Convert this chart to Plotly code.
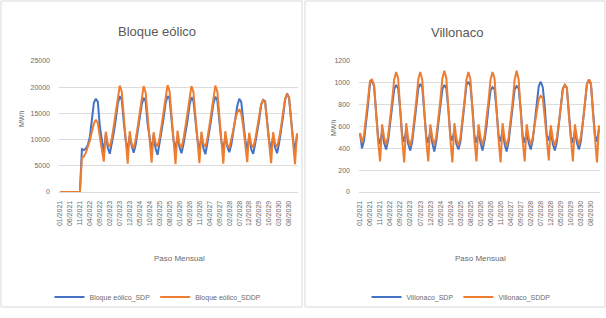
import plotly.graph_objects as go

# ---------------- data ----------------
months = [f"{m:02d}/{y}" for y in range(2021, 2031) for m in range(1, 13)]
tick_labels = months[::5]

bloque_sdp = [
    0, 0, 0, 0, 0, 0, 0, 0, 0, 0, 0, 8200,
    8000, 8300, 9000, 10500, 14000, 17000, 17800, 17200, 12500, 9500, 7500, 11000,
    8500, 7300, 9200, 11300, 13800, 16800, 18300, 17600, 13400, 9800, 8200, 10600,
    8800, 7500, 9000, 11500, 14200, 16600, 18000, 17300, 13000, 10200, 7800, 10900,
    8300, 7100, 9400, 11200, 14000, 16900, 18300, 17800, 13600, 9900, 8300, 10400,
    8600, 7400, 9100, 11000, 13600, 16500, 18100, 17400, 13100, 10100, 7900, 10700,
    8400, 7200, 9300, 11400, 14100, 16800, 18200, 17500, 13300, 9700, 8100, 10500,
    8700, 7600, 9000, 11100, 13900, 16400, 17800, 17200, 12900, 10000, 8000, 10800,
    8200, 7300, 9200, 11300, 13700, 16600, 17600, 17300, 13200, 9800, 8200, 10600,
    8500, 7400, 9300, 11500, 14400, 17500, 18800, 18000, 13500, 10100, 7800, 10900,
]
bloque_sddp = [
    0, 0, 0, 0, 0, 0, 0, 0, 0, 0, 0, 6500,
    6800, 7500, 8500, 9800, 11500, 13000, 13800, 13200, 10500, 8000, 5800, 11500,
    9200, 8600, 10200, 12600, 15400, 18200, 20300, 19200, 14200, 9400, 5400, 11600,
    9000, 8400, 10000, 12400, 15200, 18000, 20200, 19000, 14000, 9600, 5600, 11400,
    9300, 8700, 10300, 12700, 15500, 18300, 20400, 19300, 14300, 9300, 5300, 11700,
    9100, 8500, 10100, 12500, 15100, 18100, 20200, 19100, 14100, 9500, 5500, 11500,
    9200, 8600, 10200, 12600, 15300, 18200, 20300, 19200, 14200, 9400, 5400, 11600,
    9000, 8400, 9900, 11800, 13800, 15200, 15800, 15000, 12500, 9200, 5700, 11300,
    9100, 8500, 10000, 12200, 14800, 16800, 17600, 17000, 13200, 9300, 5500, 11400,
    9200, 8600, 10200, 12500, 15400, 17800, 18600, 18100, 13800, 9400, 5300, 11200,
]
villonaco_sdp = [
    540, 400, 470, 620, 800, 1000, 1020, 970, 740, 500, 440, 560,
    450, 390, 470, 610, 790, 940, 980, 950, 760, 520, 460, 570,
    440, 380, 460, 600, 780, 950, 990, 960, 750, 510, 450, 560,
    450, 370, 470, 610, 790, 940, 980, 950, 760, 520, 470, 570,
    440, 390, 460, 620, 800, 980, 1010, 970, 770, 510, 450, 560,
    450, 380, 470, 600, 780, 930, 960, 940, 750, 520, 460, 570,
    440, 370, 460, 610, 790, 940, 970, 950, 760, 510, 450, 560,
    450, 390, 470, 620, 800, 970, 1010, 960, 780, 520, 470, 570,
    440, 380, 460, 600, 780, 950, 980, 950, 760, 510, 450, 560,
    450, 390, 470, 620, 810, 990, 1030, 980, 770, 520, 460, 580,
]
villonaco_sddp = [
    540, 450, 520, 660, 850, 1020, 1030, 980, 700, 470, 280, 620,
    500, 430, 510, 650, 840, 1030, 1100, 1040, 720, 480, 270, 630,
    490, 420, 500, 640, 830, 1030, 1100, 1030, 710, 470, 280, 620,
    500, 430, 510, 650, 840, 1040, 1110, 1040, 720, 480, 270, 630,
    490, 420, 500, 640, 830, 1030, 1100, 1030, 710, 470, 280, 620,
    500, 430, 510, 650, 840, 1030, 1100, 1040, 720, 480, 270, 630,
    490, 420, 500, 640, 830, 1030, 1110, 1030, 710, 470, 280, 620,
    500, 430, 500, 620, 760, 850, 880, 860, 680, 460, 290, 610,
    490, 420, 500, 630, 800, 940, 980, 960, 700, 470, 280, 620,
    500, 430, 510, 650, 830, 990, 1030, 1000, 720, 480, 270, 610,
]

left_y_ticks = [0, 5000, 10000, 15000, 20000, 25000]
right_y_ticks = [0, 200, 400, 600, 800, 1000, 1200]

BLUE = "#4472C4"
ORANGE = "#ED7D31"
TXT = "#6b6b6b"
GRID = "#dcdcdc"
FONT = "Liberation Sans Narrow, Liberation Sans, Arial, sans-serif"

W, H = 606, 318
def px(x):
    return x / W
def py(y):
    return 1 - y / H

fig = go.Figure()
fig.add_trace(go.Scatter(x=months, y=bloque_sdp, mode="lines", name="Bloque eólico_SDP",
                         line=dict(color=BLUE, width=2), xaxis="x", yaxis="y", legend="legend"))
fig.add_trace(go.Scatter(x=months, y=bloque_sddp, mode="lines", name="Bloque eólico_SDDP",
                         line=dict(color=ORANGE, width=2), xaxis="x", yaxis="y", legend="legend"))
fig.add_trace(go.Scatter(x=months, y=villonaco_sdp, mode="lines", name="Villonaco_SDP",
                         line=dict(color=BLUE, width=2), xaxis="x2", yaxis="y2", legend="legend2"))
fig.add_trace(go.Scatter(x=months, y=villonaco_sddp, mode="lines", name="Villonaco_SDDP",
                         line=dict(color=ORANGE, width=2), xaxis="x2", yaxis="y2", legend="legend2"))

xcommon = dict(type="category", tickmode="array", tickvals=tick_labels, ticktext=tick_labels,
               tickangle=-90, tickfont=dict(size=7, color=TXT, family=FONT), showgrid=False,
               showline=True, linecolor=GRID, linewidth=1, ticks="", ticklabelstandoff=5,
               range=[-0.5, len(months) - 0.5], fixedrange=True, automargin=False)
ycommon = dict(showgrid=True, gridcolor=GRID, gridwidth=1, zeroline=False, showline=False,
               tickfont=dict(size=7, color=TXT, family=FONT), ticks="", ticklabelstandoff=8,
               tickformat="d", fixedrange=True, automargin=False)

ydom = [py(192), py(61)]
fig.update_layout(
    width=W, height=H,
    margin=dict(l=0, r=0, t=0, b=0, autoexpand=False),
    paper_bgcolor="white", plot_bgcolor="white",
    font=dict(family=FONT, color=TXT),
    xaxis=dict(domain=[px(59), px(298)], anchor="y", **xcommon),
    yaxis=dict(domain=ydom, anchor="x", range=[0, 25000], tickvals=left_y_ticks, **ycommon),
    xaxis2=dict(domain=[px(359), px(600)], anchor="y2", **xcommon),
    yaxis2=dict(domain=ydom, anchor="x2", range=[0, 1200], tickvals=right_y_ticks, **ycommon),
    legend=dict(orientation="h", x=px(158), y=py(297), xanchor="center", yanchor="middle",
                font=dict(size=7, color=TXT, family=FONT), itemwidth=30, bgcolor="rgba(0,0,0,0)"),
    legend2=dict(orientation="h", x=px(461), y=py(297), xanchor="center", yanchor="middle",
                 font=dict(size=7, color=TXT, family=FONT), itemwidth=30, bgcolor="rgba(0,0,0,0)"),
    showlegend=True,
)

annotations = [
    dict(text="Bloque eólico", x=px(157), y=py(32), font=dict(size=13, color="#595959")),
    dict(text="Villonaco", x=px(457), y=py(33), font=dict(size=13, color="#595959")),
    dict(text="Paso Mensual", x=px(179), y=py(258), font=dict(size=8, color=TXT)),
    dict(text="Paso Mensual", x=px(480), y=py(258), font=dict(size=8, color=TXT)),
    dict(text="MWh", x=px(21), y=py(119), textangle=-90, font=dict(size=7, color=TXT)),
    dict(text="MWh", x=px(333), y=py(128), textangle=-90, font=dict(size=7, color=TXT)),
]
for a in annotations:
    a.update(xref="paper", yref="paper", showarrow=False, xanchor="center", yanchor="middle")
    a["font"]["family"] = FONT
fig.update_layout(annotations=annotations)

fig.update_layout(shapes=[
    dict(type="rect", xref="paper", yref="paper", x0=px(1), x1=px(302), y0=py(307), y1=py(1),
         line=dict(color="#d9d9d9", width=1), layer="below"),
    dict(type="rect", xref="paper", yref="paper", x0=px(305), x1=px(605), y0=py(307), y1=py(1),
         line=dict(color="#d9d9d9", width=1), layer="below"),
])

fig.write_html("out.html", config={"displayModeBar": False},
               post_script="document.body.style.margin='0';document.body.style.padding='0';")
